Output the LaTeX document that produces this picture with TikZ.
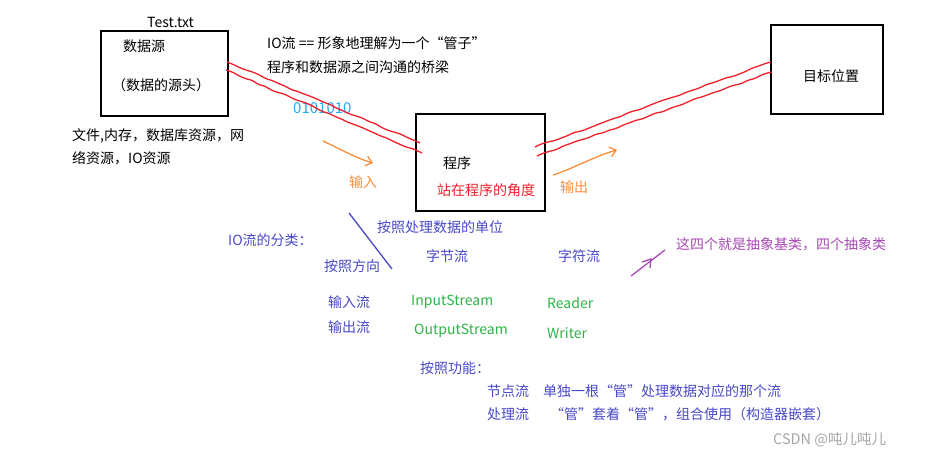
\documentclass[tikz,border=0pt]{standalone}
\usepackage{fontspec}
\setmainfont{Noto Sans CJK SC}
\usepackage{xcolor}
\usetikzlibrary{arrows.meta}
\usetikzlibrary{decorations.pathmorphing}
\definecolor{pipered}{RGB}{238,32,42}
\definecolor{flowblue}{RGB}{72,72,200}
\definecolor{flowgreen}{RGB}{46,178,70}
\definecolor{absviolet}{RGB}{168,72,180}
\definecolor{arrorange}{RGB}{255,140,58}
\definecolor{bitcyan}{RGB}{40,168,236}
\tikzset{
	box/.style={draw,line width=1.2pt,minimum width=#1,inner sep=0},
	txt/.style={anchor=west,inner sep=0,font=\fontsize{14}{15}\selectfont},
	pipe/.style={pipered,line width=1.3pt,decorate,
		decoration={random steps,segment length=7pt,amplitude=0.8pt},rounded corners=2pt},
	flowarr/.style={arrorange,line width=1.3pt,-{Straight Barb[length=6pt,width=10pt]}}
}
\begin{document}
\begin{tikzpicture}[x=1pt,y=-1pt]
					\pgfmathsetseed{7}
					\useasboundingbox (0,0) rectangle (938,460);
					\node[box=127pt,minimum height=85pt] (src) at (164.5,73.5) {};
					\node[box=129pt,minimum height=97pt] (prog) at (480.5,162.5) {};
					\node[box=112pt,minimum height=89pt] (dest) at (827,69.5) {};
					\node[txt] (file) at (147,22) {Test.txt};
					\node[txt] (srcname) at (123,46) {数据源};
					\node[txt] (srchead) at (112,85) {（数据的源头）};
					\node[txt] (srcres1) at (72,136) {文件,内存，数据库资源，网};
					\node[txt] (srcres2) at (72,158) {络资源，IO资源};
					\node[txt] (pipe1) at (267,43) {IO流 == 形象地理解为一个“管子”};
					\node[txt] (pipe2) at (267,67) {程序和数据源之间沟通的桥梁};
					\node[txt,bitcyan,font=\fontsize{15}{16}\selectfont] (bits) at (293,108) {0101010};
					\node[txt] (progname) at (443,163) {程序};
					\node[txt,pipered] (progview) at (437,190) {站在程序的角度};
					\node[txt] (destname) at (803,76) {目标位置};
					\node[txt,arrorange] (inlbl) at (349,182) {输入};
					\node[txt,arrorange] (outlbl) at (560,187) {输出};
					\coordinate (srcA) at (227,62);
					\coordinate (srcB) at (226,70);
					\coordinate (progA) at (420,143);
					\coordinate (progB) at (422,153);
					\coordinate (progC) at (535,147);
					\coordinate (progD) at (537,156);
					\coordinate (destA) at (771,62);
					\coordinate (destB) at (772,72);
					\draw[pipe] (srcA) -- (progA);
					\draw[pipe] (srcB) -- (progB);
					\draw[pipe] (progC) -- (destA);
					\draw[pipe] (progD) -- (destB);
					\coordinate (inS) at (323,141);
					\coordinate (inE) at (373,163);
					\coordinate (outS) at (553,175);
					\coordinate (outE) at (617,150);
					\draw[flowarr] (inS) .. controls (340,149) and (356,158) .. (inE);
					\draw[flowarr] (outS) .. controls (570,170) and (595,156) .. (outE);
					\begin{scope}[flowblue]
					\node[txt] (kinds) at (228,240) {IO流的分类：};
					\node[txt] (byunit) at (377,227) {按照处理数据的单位};
					\node[txt] (bydir) at (324,266) {按照方向};
					\node[txt] (bytes) at (426,256) {字节流};
					\node[txt] (chars) at (558,256) {字符流};
					\node[txt] (inflow) at (328,302) {输入流};
					\node[txt] (outflow) at (328,327) {输出流};
					\node[txt] (byfunc) at (420,368) {按照功能：};
					\node[txt] (node) at (487,391) {节点流};
					\node[txt] (nodedesc) at (543,391) {单独一根“管”处理数据对应的那个流};
					\node[txt] (proc) at (487,414) {处理流};
					\node[txt] (procdesc) at (550,414) {“管”套着“管”，组合使用（构造器嵌套）};
					\coordinate (slashA) at (349,213);
					\coordinate (slashB) at (392,269);
					\draw[line width=1.3pt] (slashA) -- (slashB);
					\end{scope}
					\node[txt,flowgreen] (instream) at (411,302) {InputStream};
					\node[txt,flowgreen] (outstream) at (414,331) {OutputStream};
					\node[txt,flowgreen] (reader) at (547,303) {Reader};
					\node[txt,flowgreen] (writer) at (547,333) {Writer};
					\node[txt,absviolet] (abstract) at (676,244) {这四个就是抽象基类，四个抽象类};
					\coordinate (tickA) at (631,276);
					\coordinate (tickB) at (665,250);
					\draw[absviolet,line width=1.3pt] (tickA) -- (tickB);
					\draw[absviolet,line width=1.3pt] (642,262) -- (651,259) -- (650,268);
					\node[txt,gray!70,font=\fontsize{14.5}{15}\selectfont] (mark) at (773,440) {CSDN @吨儿吨儿};
				\end{tikzpicture}
\end{document}
